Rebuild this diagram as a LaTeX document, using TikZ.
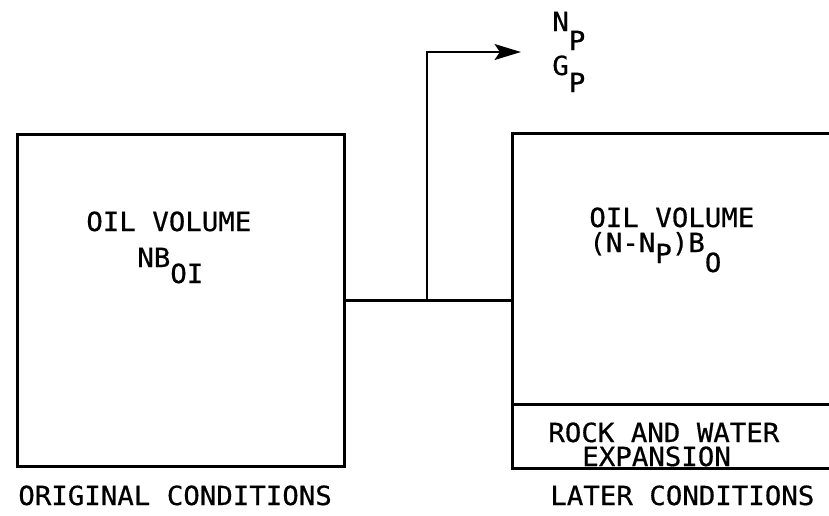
\documentclass[tikz,border=0pt]{standalone}
\usepackage{fontspec}
\usepackage{tikz}
\usetikzlibrary{arrows.meta, positioning}
\newfontfamily\printfont[FakeStretch=1.04, FakeBold=0.6]{DejaVu Sans Mono}
\newcommand{\lowsub}[2][0.32cm]{\raisebox{-#1}{#2}}
\tikzstyle{tank} = [rectangle, draw=black, line width=1.7pt, inner sep=0pt]
\tikzstyle{zone} = [rectangle, inner sep=0pt]
\tikzstyle{wall} = [line width=1.7pt, line cap=rect]
\tikzstyle{pipe} = [line width=1.5pt]
\tikzstyle{arrow} = [line width=1.5pt, -{Stealth[length=15pt, width=9pt, inset=3pt]}]
\tikzstyle{label} = [anchor=base west, inner sep=0pt, font=\printfont\fontsize{15}{18}\selectfont]

\begin{document}
\begin{tikzpicture}[x=0.02cm, y=-0.02cm]
\useasboundingbox (0,0) rectangle (829,515);
\node (orig) [tank, minimum width=6.56cm, minimum height=6.66cm] at (181,300.5) {};
\node (later) [zone, minimum width=6.32cm, minimum height=5.4cm] at (671,269) {};
\node (rock) [zone, minimum width=6.32cm, minimum height=1.26cm, below=0pt of later] {};

\draw [wall] (later.north east) -- (later.north west) -- (rock.south west) -- (rock.south east);
\draw [wall] (later.south west) -- (later.south east);

\node (oilone) [label] at (86,231) {OIL VOLUME};
\node (nboi) [label] at (137,267) {NB\lowsub{OI}};
\node (oiltwo) [label] at (589,227) {OIL VOLUME};
\node (nbo) [label] at (589,252) {(N-N\lowsub[0.22cm]{P})B\lowsub[0.4cm]{O}};
\node (np) [label] at (552,31) {N\lowsub[0.38cm]{P}};
\node (gp) [label] at (552,75) {G\lowsub[0.34cm]{P}};
\node (rockw) [label] at (548,442) {ROCK AND WATER};
\node (expan) [label] at (582,466) {EXPANSION};
\node (origc) [label] at (18,505) {ORIGINAL CONDITIONS};
\node (laterc) [label] at (550,505) {LATER CONDITIONS};

\coordinate (tee) at (427,300.5);
\coordinate (outlet) at (521,52);
\draw [pipe] (orig.east) -- (orig.east -| later.west);
\draw [arrow] (tee) |- (outlet);
\end{tikzpicture}
\end{document}
